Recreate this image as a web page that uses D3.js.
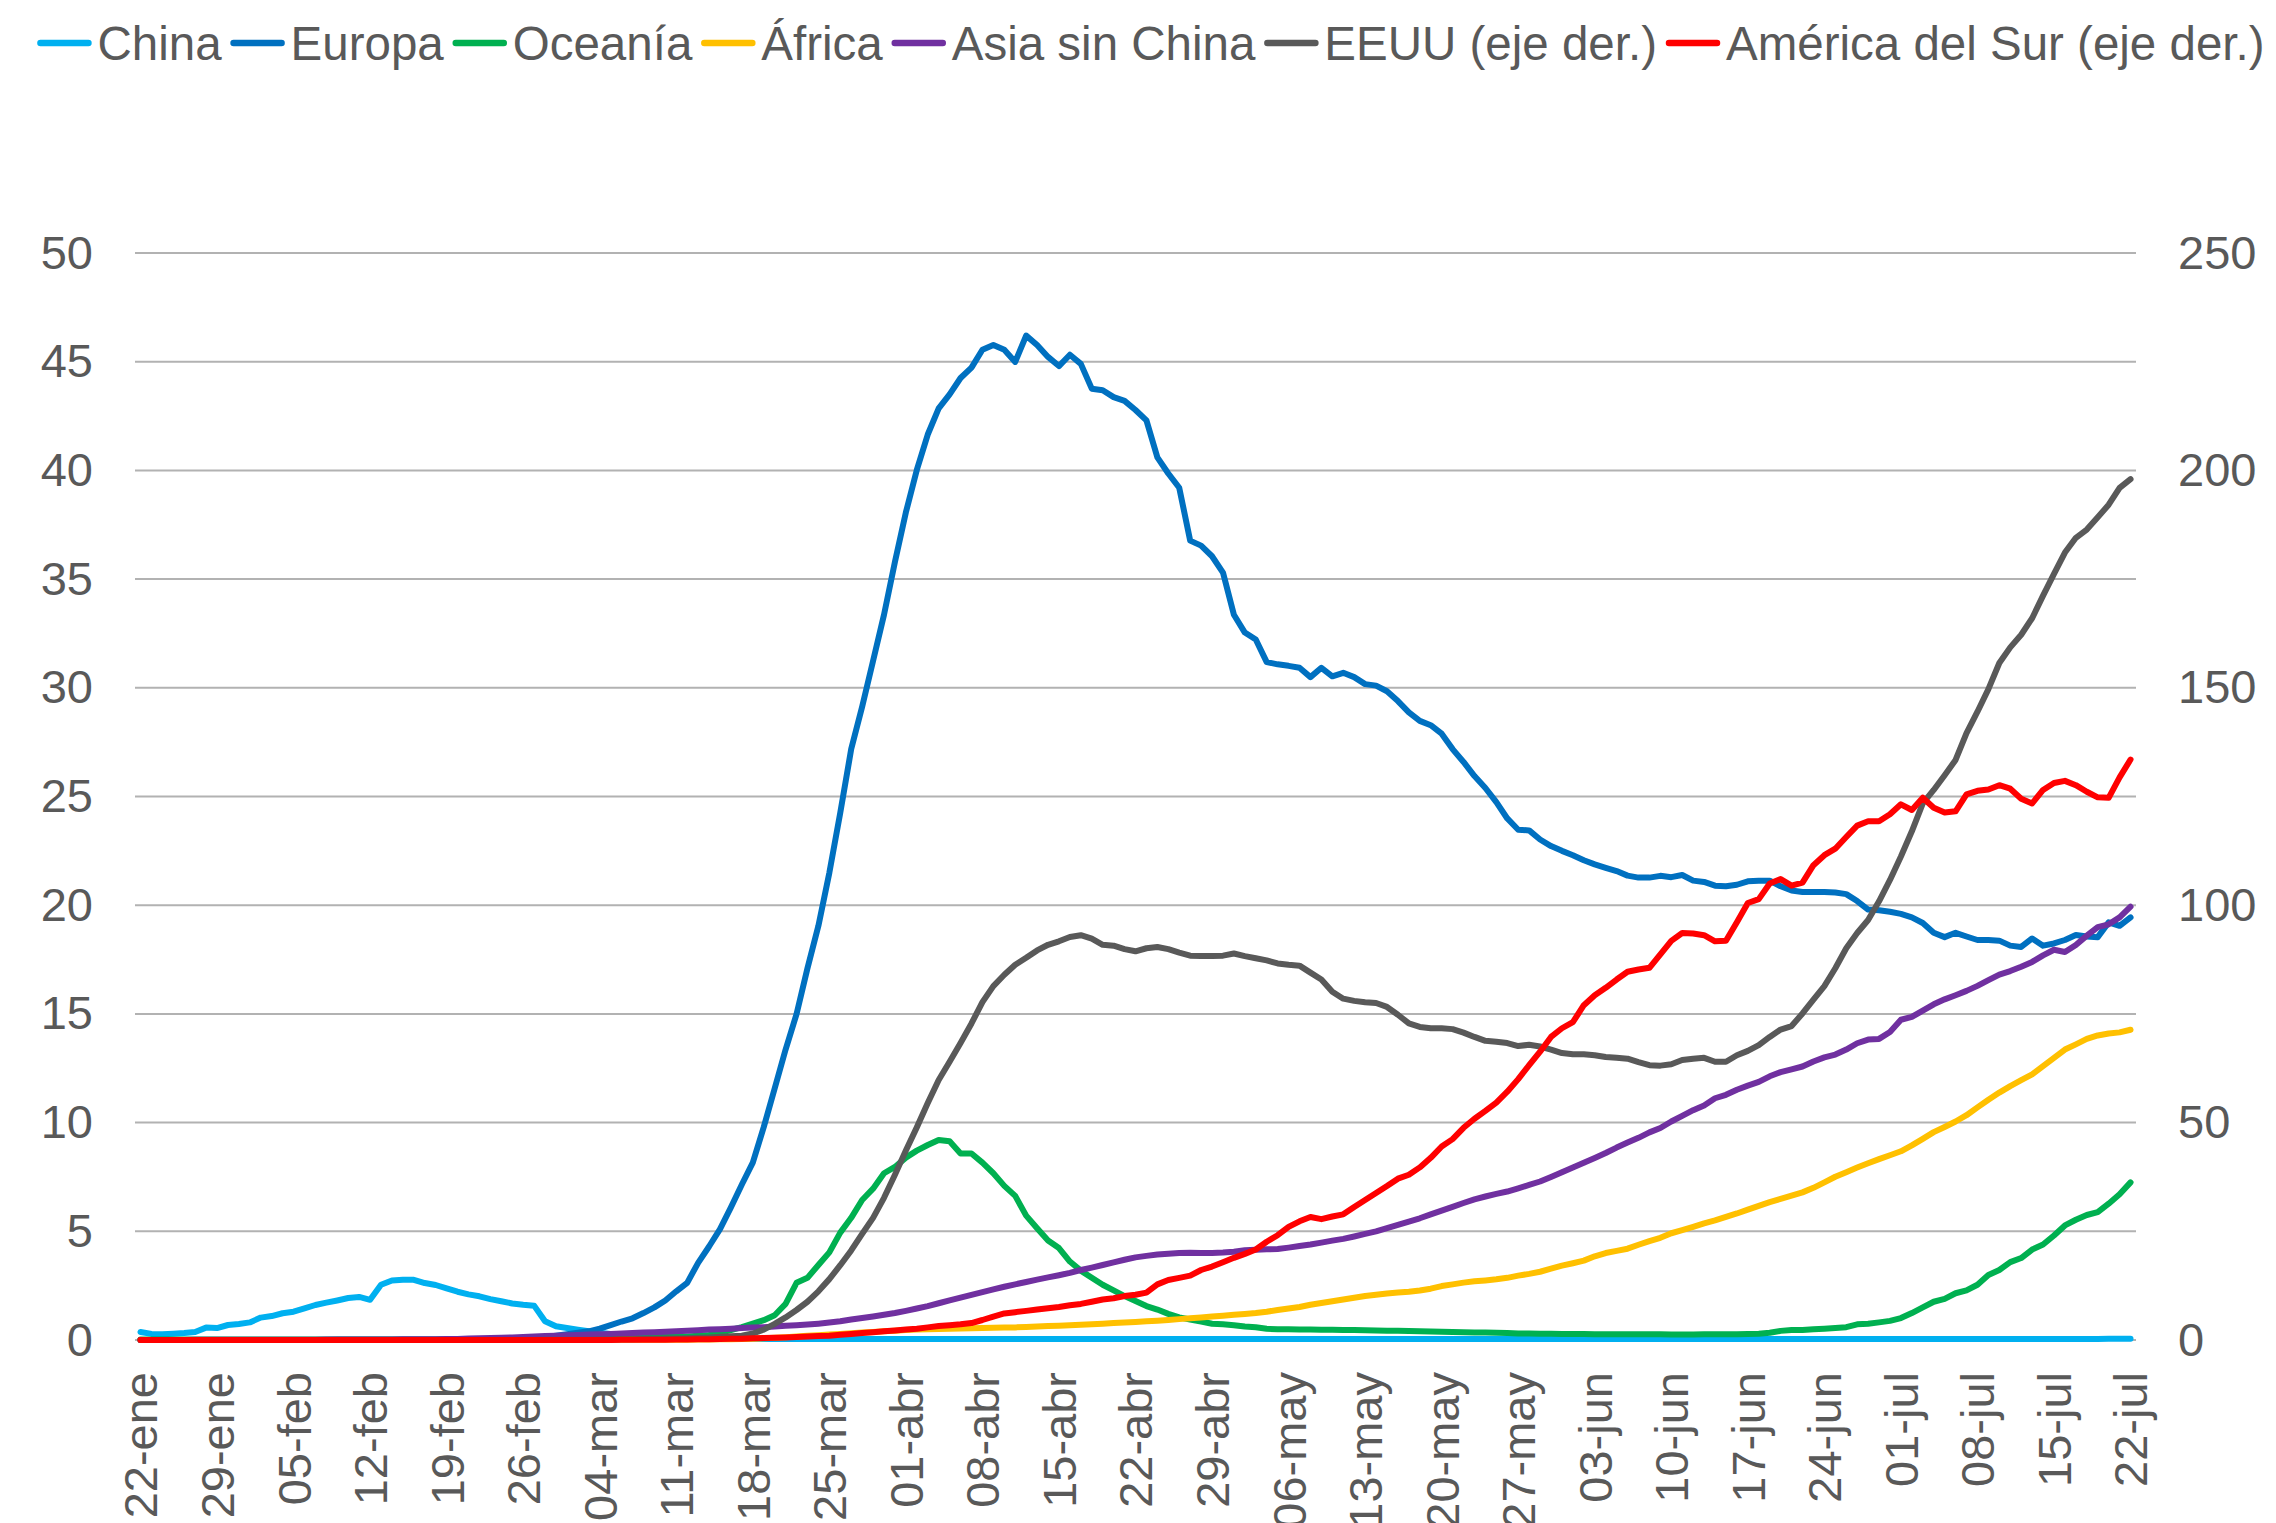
<!DOCTYPE html>
<html>
<head>
<meta charset="utf-8">
<script src="https://cdn.jsdelivr.net/npm/d3@7"></script>
<style>
  body { margin: 0; background: #fff; }
  text { font-family: "Liberation Sans", Arial, sans-serif; fill: #595959; }
</style>
</head>
<body>
<svg id="chart"></svg>
<script>
const width = 2276;
const height = 1523;

// categorias: un punto por dia, del 22-ene al 22-jul
const meses = ['ene', 'feb', 'mar', 'abr', 'may', 'jun', 'jul'];
const fechas = d3.timeDay.range(new Date(2020, 0, 22), new Date(2020, 6, 23));
const categorias = fechas.map(d => d3.timeFormat('%d')(d) + '-' + meses[d.getMonth()]);
const etiquetasX = categorias.filter((c, i) => i % 7 === 0);

const ticksIzq = [0, 5, 10, 15, 20, 25, 30, 35, 40, 45, 50];
const ticksDer = [0, 50, 100, 150, 200, 250];

// eje izquierdo
const china = [
  0.37, 0.28, 0.26, 0.29, 0.32, 0.37, 0.57,
  0.55, 0.69, 0.74, 0.81, 1.03, 1.10, 1.23,
  1.30, 1.45, 1.61, 1.72, 1.82, 1.93, 1.98,
  1.85, 2.54, 2.74, 2.77, 2.77, 2.62, 2.53,
  2.37, 2.22, 2.10, 2.01, 1.88, 1.78, 1.68,
  1.62, 1.58, 0.86, 0.63, 0.55, 0.47, 0.40,
  0.34, 0.28, 0.22, 0.18, 0.15, 0.12, 0.10,
  0.09, 0.08, 0.08, 0.07, 0.07, 0.06, 0.06,
  0.06, 0.05, 0.05, 0.05, 0.05, 0.05, 0.05,
  0.05, 0.05, 0.05, 0.05, 0.05, 0.05, 0.05,
  0.05, 0.05, 0.05, 0.05, 0.05, 0.05, 0.05,
  0.05, 0.05, 0.05, 0.05, 0.05, 0.05, 0.05,
  0.05, 0.05, 0.05, 0.05, 0.05, 0.05, 0.05,
  0.05, 0.05, 0.05, 0.05, 0.05, 0.05, 0.05,
  0.05, 0.05, 0.05, 0.05, 0.05, 0.05, 0.05,
  0.05, 0.05, 0.05, 0.05, 0.05, 0.05, 0.05,
  0.05, 0.05, 0.05, 0.05, 0.05, 0.05, 0.05,
  0.05, 0.05, 0.05, 0.05, 0.05, 0.05, 0.05,
  0.05, 0.05, 0.05, 0.05, 0.05, 0.05, 0.05,
  0.05, 0.05, 0.05, 0.05, 0.05, 0.05, 0.05,
  0.05, 0.05, 0.05, 0.05, 0.05, 0.05, 0.05,
  0.05, 0.05, 0.05, 0.05, 0.05, 0.05, 0.05,
  0.05, 0.05, 0.05, 0.05, 0.05, 0.05, 0.05,
  0.05, 0.05, 0.05, 0.05, 0.05, 0.05, 0.05,
  0.05, 0.05, 0.05, 0.05, 0.05, 0.05, 0.05,
  0.05, 0.05, 0.05, 0.05, 0.05, 0.06, 0.06,
  0.06
];

const europa = [
  0.00, 0.00, 0.00, 0.00, 0.00, 0.00, 0.00,
  0.00, 0.00, 0.00, 0.00, 0.00, 0.00, 0.00,
  0.00, 0.00, 0.00, 0.00, 0.01, 0.01, 0.01,
  0.01, 0.01, 0.01, 0.01, 0.01, 0.01, 0.01,
  0.01, 0.01, 0.02, 0.02, 0.03, 0.04, 0.05,
  0.07, 0.10, 0.14, 0.20, 0.27, 0.33, 0.40,
  0.52, 0.68, 0.85, 1.00, 1.24, 1.50, 1.82,
  2.24, 2.63, 3.55, 4.30, 5.10, 6.10, 7.15,
  8.16, 9.79, 11.57, 13.36, 14.99, 17.10, 19.05,
  21.49, 24.25, 27.18, 29.13, 31.24, 33.36, 35.79,
  38.07, 40.02, 41.65, 42.85, 43.50, 44.25, 44.73,
  45.55, 45.77, 45.55, 44.99, 46.20, 45.77, 45.22,
  44.80, 45.32, 44.90, 43.76, 43.69, 43.37, 43.20,
  42.78, 42.30, 40.60, 39.86, 39.20, 36.77, 36.54,
  36.05, 35.30, 33.36, 32.54, 32.22, 31.18, 31.08,
  31.01, 30.92, 30.49, 30.92, 30.53, 30.69, 30.49,
  30.17, 30.10, 29.84, 29.39, 28.87, 28.48, 28.28,
  27.89, 27.18, 26.59, 25.94, 25.39, 24.74, 23.99,
  23.47, 23.44, 23.02, 22.72, 22.50, 22.30, 22.07,
  21.88, 21.72, 21.57, 21.36, 21.27, 21.27, 21.35,
  21.29, 21.39, 21.13, 21.07, 20.90, 20.87, 20.94,
  21.10, 21.13, 21.13, 20.87, 20.68, 20.61, 20.61,
  20.61, 20.58, 20.51, 20.19, 19.80, 19.77, 19.70,
  19.60, 19.44, 19.18, 18.73, 18.53, 18.73, 18.56,
  18.40, 18.40, 18.37, 18.14, 18.08, 18.47, 18.14,
  18.24, 18.40, 18.63, 18.56, 18.53, 19.21, 19.05,
  19.44
];

const oceania = [
  0.02, 0.02, 0.02, 0.02, 0.02, 0.02, 0.02,
  0.02, 0.02, 0.02, 0.02, 0.02, 0.02, 0.02,
  0.02, 0.02, 0.02, 0.02, 0.02, 0.02, 0.02,
  0.02, 0.02, 0.02, 0.02, 0.02, 0.02, 0.02,
  0.03, 0.03, 0.03, 0.03, 0.04, 0.04, 0.04,
  0.05, 0.05, 0.06, 0.06, 0.07, 0.08, 0.09,
  0.10, 0.11, 0.12, 0.13, 0.14, 0.15, 0.15,
  0.16, 0.16, 0.20, 0.23, 0.33, 0.46, 0.59,
  0.75, 0.91, 1.14, 1.66, 2.63, 2.86, 3.45,
  4.03, 4.94, 5.62, 6.44, 6.96, 7.67, 7.96,
  8.39, 8.71, 8.97, 9.20, 9.14, 8.58, 8.58,
  8.16, 7.67, 7.09, 6.63, 5.72, 5.14, 4.58,
  4.23, 3.61, 3.19, 2.86, 2.54, 2.28, 2.02,
  1.79, 1.56, 1.40, 1.20, 1.04, 0.94, 0.85,
  0.75, 0.72, 0.68, 0.62, 0.59, 0.52, 0.49,
  0.49, 0.48, 0.48, 0.47, 0.47, 0.46, 0.46,
  0.45, 0.44, 0.43, 0.42, 0.41, 0.40, 0.39,
  0.38, 0.37, 0.36, 0.35, 0.34, 0.33, 0.32,
  0.30, 0.30, 0.29, 0.29, 0.28, 0.28, 0.28,
  0.27, 0.27, 0.27, 0.26, 0.26, 0.26, 0.26,
  0.25, 0.25, 0.25, 0.26, 0.26, 0.26, 0.27,
  0.28, 0.29, 0.33, 0.42, 0.46, 0.46, 0.49,
  0.52, 0.55, 0.59, 0.72, 0.75, 0.81, 0.88,
  1.01, 1.24, 1.50, 1.76, 1.89, 2.15, 2.28,
  2.54, 2.99, 3.22, 3.58, 3.77, 4.16, 4.39,
  4.81, 5.27, 5.53, 5.75, 5.88, 6.27, 6.70,
  7.25
];

const africa = [
  0.00, 0.00, 0.00, 0.00, 0.00, 0.00, 0.00,
  0.00, 0.00, 0.00, 0.00, 0.00, 0.00, 0.00,
  0.00, 0.00, 0.00, 0.00, 0.00, 0.00, 0.00,
  0.00, 0.00, 0.00, 0.00, 0.00, 0.00, 0.00,
  0.01, 0.01, 0.01, 0.01, 0.01, 0.01, 0.01,
  0.01, 0.01, 0.01, 0.01, 0.01, 0.01, 0.01,
  0.01, 0.01, 0.01, 0.01, 0.01, 0.01, 0.01,
  0.01, 0.01, 0.02, 0.02, 0.03, 0.04, 0.05,
  0.06, 0.08, 0.10, 0.13, 0.16, 0.19, 0.22,
  0.25, 0.28, 0.31, 0.34, 0.37, 0.40, 0.43,
  0.46, 0.48, 0.50, 0.51, 0.52, 0.53, 0.54,
  0.55, 0.56, 0.57, 0.58, 0.60, 0.62, 0.64,
  0.66, 0.68, 0.70, 0.72, 0.75, 0.78, 0.80,
  0.83, 0.86, 0.89, 0.92, 0.96, 1.00, 1.04,
  1.08, 1.12, 1.16, 1.20, 1.24, 1.30, 1.38,
  1.45, 1.52, 1.62, 1.70, 1.78, 1.86, 1.94,
  2.02, 2.08, 2.14, 2.18, 2.22, 2.28, 2.36,
  2.48, 2.56, 2.64, 2.70, 2.74, 2.79, 2.86,
  2.96, 3.04, 3.14, 3.28, 3.42, 3.53, 3.65,
  3.85, 4.00, 4.10, 4.20, 4.38, 4.55, 4.70,
  4.91, 5.05, 5.20, 5.36, 5.50, 5.66, 5.82,
  6.00, 6.17, 6.34, 6.49, 6.64, 6.79, 7.00,
  7.25, 7.51, 7.72, 7.93, 8.13, 8.32, 8.50,
  8.68, 8.95, 9.25, 9.56, 9.80, 10.05, 10.34,
  10.70, 11.05, 11.38, 11.68, 11.95, 12.22, 12.60,
  12.98, 13.36, 13.60, 13.85, 14.01, 14.10, 14.15,
  14.27
];

const asiaSinChina = [
  0.00, 0.00, 0.00, 0.00, 0.00, 0.01, 0.01,
  0.01, 0.01, 0.01, 0.01, 0.01, 0.01, 0.01,
  0.01, 0.01, 0.01, 0.02, 0.02, 0.02, 0.02,
  0.02, 0.02, 0.02, 0.03, 0.03, 0.03, 0.04,
  0.05, 0.05, 0.07, 0.08, 0.09, 0.10, 0.12,
  0.14, 0.16, 0.18, 0.20, 0.22, 0.23, 0.25,
  0.26, 0.28, 0.30, 0.32, 0.34, 0.36, 0.38,
  0.40, 0.42, 0.45, 0.48, 0.50, 0.52, 0.55,
  0.57, 0.59, 0.62, 0.65, 0.68, 0.71, 0.75,
  0.80, 0.86, 0.94, 1.01, 1.08, 1.16, 1.24,
  1.34, 1.45, 1.56, 1.69, 1.82, 1.95, 2.08,
  2.20, 2.33, 2.45, 2.56, 2.67, 2.78, 2.88,
  2.98, 3.09, 3.22, 3.33, 3.45, 3.57, 3.69,
  3.80, 3.87, 3.93, 3.97, 4.00, 4.01, 4.00,
  4.00, 4.02, 4.06, 4.13, 4.15, 4.17, 4.19,
  4.25, 4.32, 4.39, 4.48, 4.57, 4.65, 4.76,
  4.88, 5.00, 5.15, 5.30, 5.45, 5.60, 5.78,
  5.95, 6.12, 6.30, 6.47, 6.60, 6.72, 6.83,
  6.98, 7.13, 7.29, 7.50, 7.72, 7.93, 8.15,
  8.37, 8.60, 8.85, 9.08, 9.30, 9.55, 9.75,
  10.05, 10.31, 10.57, 10.79, 11.12, 11.28, 11.51,
  11.70, 11.87, 12.13, 12.32, 12.45, 12.58, 12.81,
  13.00, 13.13, 13.36, 13.65, 13.82, 13.85, 14.17,
  14.73, 14.86, 15.15, 15.44, 15.67, 15.86, 16.06,
  16.29, 16.55, 16.81, 16.97, 17.17, 17.39, 17.69,
  17.95, 17.85, 18.17, 18.60, 18.99, 19.12, 19.44,
  19.93
];

// eje derecho
const eeuu = [
  0.0, 0.0, 0.0, 0.0, 0.0, 0.0, 0.0,
  0.0, 0.0, 0.0, 0.0, 0.0, 0.0, 0.0,
  0.0, 0.0, 0.0, 0.0, 0.0, 0.0, 0.0,
  0.0, 0.0, 0.0, 0.0, 0.0, 0.0, 0.0,
  0.0, 0.0, 0.0, 0.01, 0.01, 0.01, 0.02,
  0.02, 0.02, 0.03, 0.03, 0.04, 0.05, 0.07,
  0.09, 0.12, 0.15, 0.18, 0.22, 0.28, 0.33,
  0.35, 0.42, 0.50, 0.60, 0.72, 0.85, 1.0,
  1.5, 2.4, 3.7, 5.2, 6.9, 8.8, 11.2,
  14.0, 17.2, 20.6, 24.4, 28.1, 32.7, 38.0,
  43.6, 48.9, 54.5, 59.8, 64.0, 68.3, 72.8,
  77.7, 81.4, 84.0, 86.3, 87.9, 89.6, 90.9,
  91.7, 92.7, 93.1, 92.3, 90.9, 90.7, 89.9,
  89.4, 90.1, 90.4, 89.9, 89.1, 88.4, 88.3,
  88.3, 88.4, 88.9, 88.3, 87.8, 87.3, 86.6,
  86.3, 86.1, 84.5, 82.9, 80.1, 78.5, 78.0,
  77.7, 77.5, 76.6, 74.8, 72.8, 72.0, 71.7,
  71.7, 71.5, 70.7, 69.7, 68.8, 68.6, 68.3,
  67.6, 67.9, 67.5, 66.8, 66.0, 65.7, 65.7,
  65.5, 65.1, 64.9, 64.7, 63.9, 63.2, 63.1,
  63.4, 64.4, 64.7, 64.9, 64.0, 64.0, 65.5,
  66.5, 67.8, 69.7, 71.4, 72.2, 75.1, 78.3,
  81.4, 85.5, 90.1, 93.6, 96.6, 100.9, 105.8,
  111.2, 117.0, 123.4, 126.5, 129.9, 133.4, 139.6,
  144.5, 149.7, 155.7, 159.3, 162.2, 166.0, 171.2,
  176.2, 181.1, 184.5, 186.4, 189.2, 192.1, 196.0,
  198.0
];

const americaSur = [
  0.0, 0.0, 0.0, 0.0, 0.0, 0.0, 0.0,
  0.0, 0.0, 0.0, 0.0, 0.0, 0.0, 0.0,
  0.0, 0.0, 0.0, 0.0, 0.0, 0.0, 0.0,
  0.0, 0.0, 0.0, 0.0, 0.0, 0.0, 0.0,
  0.0, 0.0, 0.0, 0.0, 0.0, 0.0, 0.0,
  0.0, 0.0, 0.0, 0.0, 0.01, 0.01, 0.01,
  0.02, 0.02, 0.03, 0.04, 0.05, 0.06, 0.08,
  0.10, 0.12, 0.15, 0.18, 0.22, 0.26, 0.30,
  0.38, 0.45, 0.52, 0.60, 0.70, 0.80, 0.90,
  1.0, 1.2, 1.4, 1.6, 1.8, 2.0, 2.2,
  2.4, 2.6, 2.9, 3.2, 3.4, 3.6, 3.9,
  4.6, 5.4, 6.1, 6.4, 6.7, 7.0, 7.3,
  7.6, 8.0, 8.3, 8.8, 9.3, 9.6, 10.1,
  10.4, 10.9, 12.8, 13.8, 14.3, 14.8, 16.1,
  16.9, 17.9, 18.9, 19.8, 20.8, 22.6, 24.1,
  26.0, 27.3, 28.3, 27.8, 28.4, 28.9, 30.6,
  32.2, 33.8, 35.4, 37.1, 38.0, 39.7, 41.9,
  44.5, 46.2, 48.8, 50.9, 52.7, 54.6, 57.1,
  60.0, 63.2, 66.3, 69.7, 71.7, 73.1, 77.0,
  79.3, 81.0, 82.9, 84.7, 85.2, 85.6, 88.7,
  91.8, 93.6, 93.5, 93.1, 91.7, 91.8, 96.1,
  100.5, 101.4, 105.0, 106.0, 104.5, 105.2, 109.2,
  111.5, 113.0, 115.7, 118.3, 119.3, 119.3, 120.9,
  123.2, 121.9, 124.7, 122.4, 121.3, 121.6, 125.5,
  126.3, 126.6, 127.6, 126.8, 124.5, 123.4, 126.5,
  128.1, 128.6, 127.6, 126.1, 124.8, 124.7, 129.4,
  133.5
];

const series = [
  { name: 'China', values: china, color: '#00B0F0', axis: 'izq' },
  { name: 'Europa', values: europa, color: '#0070C0', axis: 'izq' },
  { name: 'Oceanía', values: oceania, color: '#00B050', axis: 'izq' },
  { name: 'África', values: africa, color: '#FFC000', axis: 'izq' },
  { name: 'Asia sin China', values: asiaSinChina, color: '#7030A0', axis: 'izq' },
  { name: 'EEUU (eje der.)', values: eeuu, color: '#595959', axis: 'der' },
  { name: 'América del Sur (eje der.)', values: americaSur, color: '#FF0000', axis: 'der' }
];

const plot = { left: 135, right: 2136, top: 253, bottom: 1340 };

const svg = d3.select('#chart')
  .attr('width', width)
  .attr('height', height);

const x = d3.scalePoint()
  .domain(categorias)
  .range([plot.left, plot.right])
  .padding(0.5);
const yIzq = d3.scaleLinear().domain([0, 50]).range([plot.bottom, plot.top]);
const yDer = d3.scaleLinear().domain([0, 250]).range([plot.bottom, plot.top]);

// lineas de cuadricula
svg.append('g')
  .selectAll('line')
  .data(ticksIzq)
  .enter()
  .append('line')
  .attr('x1', plot.left)
  .attr('x2', plot.right)
  .attr('y1', d => yIzq(d))
  .attr('y2', d => yIzq(d))
  .attr('stroke', '#B2B2B2')
  .attr('stroke-width', 2);

const fontSize = 47;

const ejeIzq = svg.append('g')
  .attr('transform', `translate(${plot.left},0)`)
  .call(d3.axisLeft(yIzq).tickValues(ticksIzq).tickSize(0).tickPadding(42));
const ejeDer = svg.append('g')
  .attr('transform', `translate(${plot.right},0)`)
  .call(d3.axisRight(yDer).tickValues(ticksDer).tickSize(0).tickPadding(42));
const ejeX = svg.append('g')
  .attr('transform', `translate(0,${plot.bottom})`)
  .call(d3.axisBottom(x).tickValues(etiquetasX).tickSize(0));

[ejeIzq, ejeDer, ejeX].forEach(g => {
  g.select('.domain').remove();
  g.selectAll('text')
    .attr('font-size', fontSize)
    .style('font-family', '"Liberation Sans", Arial, sans-serif')
    .attr('fill', '#595959');
});

ejeX.selectAll('text')
  .attr('transform', 'rotate(-90)')
  .attr('text-anchor', 'end')
  .attr('x', -32)
  .attr('y', 0)
  .attr('dy', '0.35em');

// series
const lineaIzq = d3.line()
  .x((d, i) => x(categorias[i]))
  .y(d => yIzq(d));
const lineaDer = d3.line()
  .x((d, i) => x(categorias[i]))
  .y(d => yDer(d));

svg.append('g')
  .selectAll('path')
  .data(series)
  .enter()
  .append('path')
  .attr('d', s => (s.axis === 'izq' ? lineaIzq : lineaDer)(s.values))
  .attr('fill', 'none')
  .attr('stroke', s => s.color)
  .attr('stroke-width', 6)
  .attr('stroke-linejoin', 'round')
  .attr('stroke-linecap', 'round');

// leyenda
const leyenda = svg.append('g');
const largoLinea = 54;
const separacion = 9;
let pos = 0;
series.forEach(s => {
  const item = leyenda.append('g').attr('transform', `translate(${pos},0)`);
  item.append('line')
    .attr('x1', 3)
    .attr('x2', largoLinea - 3)
    .attr('stroke', s.color)
    .attr('stroke-width', 6.5)
    .attr('stroke-linecap', 'round');
  const t = item.append('text')
    .attr('x', largoLinea + 6)
    .attr('dy', '0.35em')
    .attr('font-size', 47.5)
    .text(s.name);
  pos += largoLinea + 6 + t.node().getComputedTextLength() + separacion;
});
const anchoLeyenda = pos - separacion;
leyenda.attr('transform', `translate(${1151 - anchoLeyenda / 2},43)`);
</script>
</body>
</html>
